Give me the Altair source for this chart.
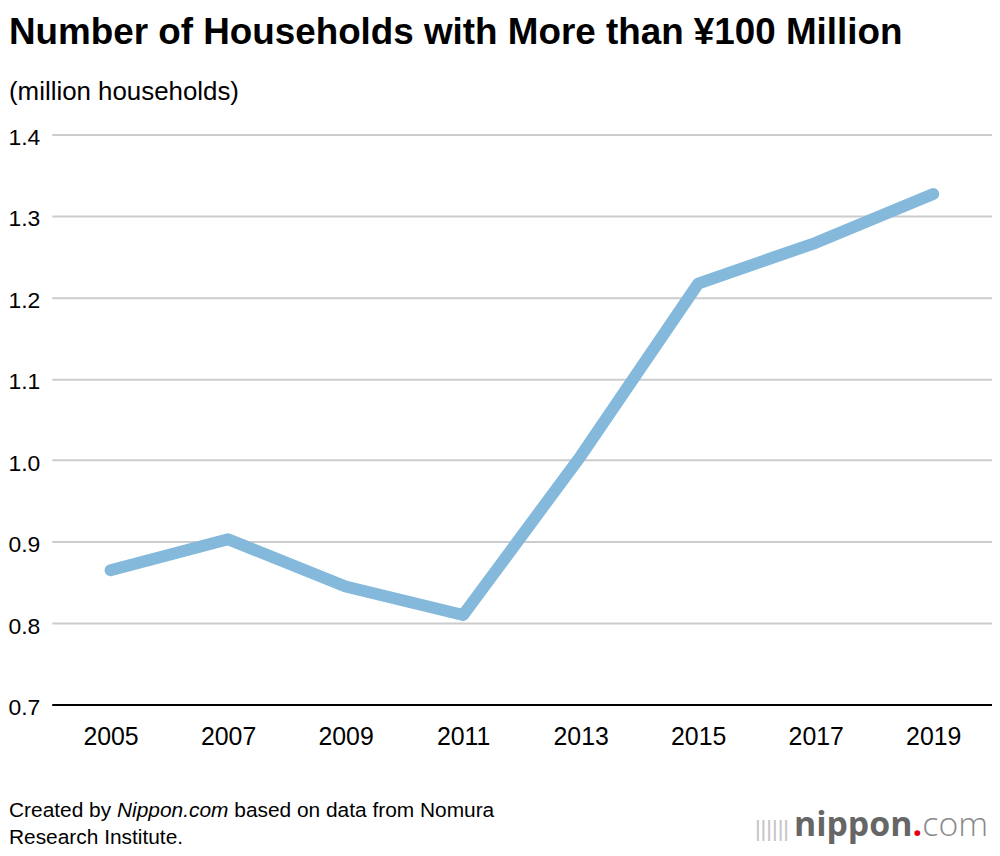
import altair as alt
import pandas as pd

years = ["2005", "2007", "2009", "2011", "2013", "2015", "2017", "2019"]
households = [0.865, 0.903, 0.845, 0.810, 1.005, 1.217, 1.267, 1.327]
y_ticks = [0.7, 0.8, 0.9, 1.0, 1.1, 1.2, 1.3, 1.4]

title_text = "Number of Households with More than ¥100 Million"
subtitle_text = "(million households)"
footer_a = "Created by"
footer_b = "Nippon.com"
footer_c = "based on data from Nomura"
footer_d = "Research Institute."
logo_icon = "||||||"
logo_a = "nippon"
logo_b = "."
logo_c = "com"

FONT = "Liberation Sans"
df = pd.DataFrame({"year": years, "value": households})

line = alt.Chart(df).mark_line(
    color="#84b9dc", strokeWidth=12, strokeCap="round", strokeJoin="round"
).encode(
    x=alt.X("year:O", sort=years,
            scale=alt.Scale(type="point", padding=0.5),
            axis=alt.Axis(title=None, labelAngle=0, ticks=False, tickSize=0,
                          domainColor="#000000", domainWidth=2,
                          labelFontSize=25, labelColor="#000000",
                          labelPadding=20, labelFont=FONT, grid=False)),
    y=alt.Y("value:Q", scale=alt.Scale(domain=[0.7, 1.4], nice=False, zero=False),
            axis=alt.Axis(title=None, values=y_ticks, format=".1f", domain=False,
                          ticks=False, tickSize=0, grid=True, gridColor="#cccccc",
                          gridWidth=2, labelFontSize=23, labelColor="#000000",
                          labelAlign="left", labelPadding=44, labelOffset=3,
                          labelFont=FONT)),
)


def txt(s, x, y, size, weight="normal", color="#000000", align="left",
        style="normal", font=FONT):
    d = pd.DataFrame({"t": [s]})
    return alt.Chart(d).mark_text(
        align=align, baseline="alphabetic", fontSize=size, fontWeight=weight,
        color=color, font=font, fontStyle=style
    ).encode(x=alt.value(x), y=alt.value(y), text="t:N")


fs = 21
sp = 278 * fs / 1000
w_a = 4891 * fs / 1000 + sp
w_b = 5335 * fs / 1000 + sp

layers = [
    line,
    txt(title_text, -43, -91, 37, weight="bold"),
    txt(subtitle_text, -43, -35, 26),
    txt(footer_a, -43, 686, fs),
    txt(footer_b, -43 + w_a, 686, fs, style="italic"),
    txt(footer_c, -43 + w_a + w_b, 686, fs),
    txt(footer_d, -43, 713, fs),
    txt(logo_icon, 741, 705, 22, color="#c4c4c4", align="right"),
    txt(logo_a, 865, 705, 34, weight="bold", color="#666666", align="right",
        font="Open Sans"),
    txt(logo_b, 865, 705, 34, weight="bold", color="#e60012", font="Open Sans"),
    txt(logo_c, 875, 705, 34, weight=300, color="#8a8a8a", font="Open Sans"),
]

chart = alt.layer(*layers).properties(
    width=945, height=573,
    padding={"left": 44, "top": 125, "right": 0, "bottom": 142},
    autosize=alt.AutoSizeParams(type="none"),
    background="#ffffff",
).configure_view(stroke=None)

chart.save("out.html", embed_options={"renderer": "svg", "actions": False})
